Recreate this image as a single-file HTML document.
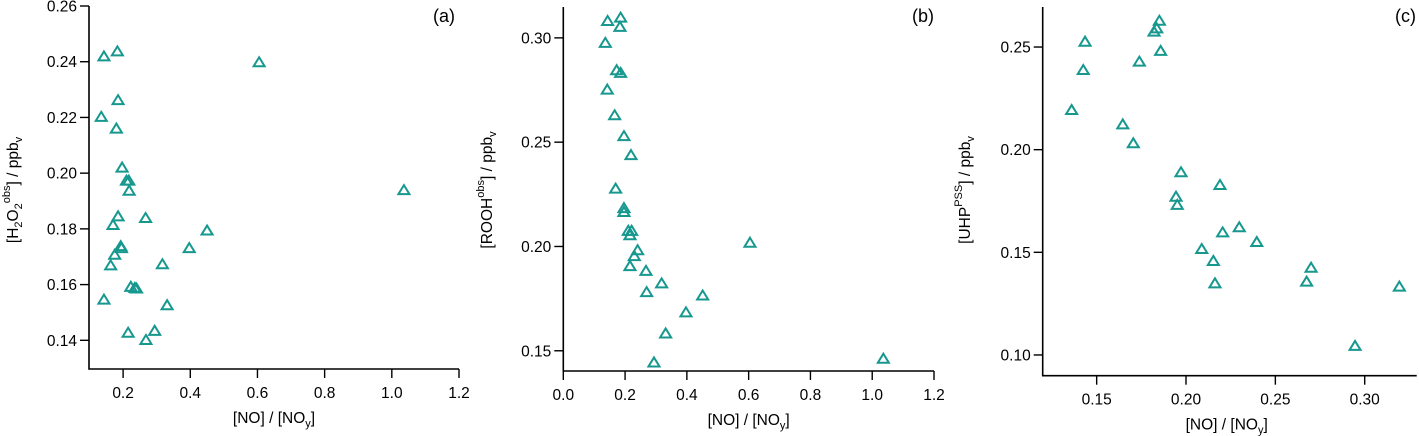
<!DOCTYPE html>
<html><head><meta charset="utf-8"><style>
html,body{margin:0;padding:0;background:#fff;}
svg{display:block;font-family:"Liberation Sans",Arial,sans-serif;}
</style></head><body>
<svg id="chart" width="1419" height="436" viewBox="0 0 1419 436" xmlns="http://www.w3.org/2000/svg"></svg>
<script>
const aX=[0.143,0.183,0.605,0.185,0.135,0.180,0.197,0.210,0.217,0.218,1.036,0.185,0.267,0.170,0.450,0.193,0.195,0.397,0.175,0.163,0.317,0.223,0.235,0.240,0.143,0.331,0.215,0.294,0.268];
const aY=[0.2419,0.2437,0.2398,0.2262,0.2202,0.2160,0.2020,0.1973,0.1973,0.1937,0.1939,0.1845,0.1839,0.1814,0.1794,0.1738,0.1731,0.1731,0.1707,0.1669,0.1673,0.1592,0.1588,0.1586,0.1546,0.1526,0.1427,0.1434,0.1401];
const bX=[0.1435,0.1856,0.1834,0.136,0.1727,0.1856,0.1424,0.1662,0.1964,0.2191,0.1694,0.1964,0.1964,0.2104,0.2212,0.2158,0.2406,0.2298,0.2158,0.2676,0.3183,0.2698,0.4511,0.3971,0.3313,0.2935,0.6043,1.036];
const bY=[0.3081,0.3097,0.3053,0.2976,0.2845,0.2832,0.2752,0.2629,0.2529,0.2438,0.2277,0.2184,0.2165,0.2075,0.2075,0.2054,0.1982,0.1954,0.1906,0.1883,0.1823,0.1781,0.1765,0.1684,0.1583,0.1444,0.2018,0.1462];
const cX=[0.1435,0.1425,0.136,0.1851,0.1836,0.1821,0.1858,0.1739,0.1646,0.1705,0.1972,0.2190,0.1944,0.1951,0.2298,0.2205,0.2396,0.2088,0.2153,0.2162,0.2675,0.2700,0.3194,0.2946];
const cY=[0.2526,0.2388,0.2193,0.2628,0.2591,0.2575,0.2481,0.2429,0.2123,0.2031,0.1890,0.1828,0.1771,0.1731,0.1622,0.1597,0.1550,0.1516,0.1458,0.1349,0.1357,0.1425,0.1333,0.1044];
const aXTicks=[0.2,0.4,0.6,0.8,1.0,1.2];
const aYTicks=[0.14,0.16,0.18,0.20,0.22,0.24,0.26];
const bXTicks=[0.0,0.2,0.4,0.6,0.8,1.0,1.2];
const bYTicks=[0.15,0.20,0.25,0.30];
const cXTicks=[0.15,0.20,0.25,0.30];
const cYTicks=[0.10,0.15,0.20,0.25];

const NS="http://www.w3.org/2000/svg";
const svg=document.getElementById('chart');
const COL="#17988f";
const FS=15.5;
function mk(tag,attrs,parent){const e=document.createElementNS(NS,tag);for(const k in attrs)e.setAttribute(k,attrs[k]);(parent||svg).appendChild(e);return e;}

function panel(p){
  const g=mk('g',{});
  
  
  const sx=v=>p.x0+(v-p.xmin)/(p.xmax-p.xmin)*(p.x1-p.x0);
  const sy=v=>p.y1-(v-p.ymin)/(p.ymax-p.ymin)*(p.y1-p.y0);
  const ax=mk('path',{d:`M${p.x0},${p.y0}V${p.y1}H${p.x1}`,fill:'none',stroke:'#000','stroke-width':1.6},g);
  
  
  p.xt.forEach((v,i)=>{
    const x=sx(v);
    const t=mk('line',{x1:x,x2:x,y1:p.y1,y2:p.y1+9,stroke:'#000','stroke-width':1.4},g);
    
    
    const l=mk('text',{x:x,y:p.y1+29,'text-anchor':'middle','font-size':FS,fill:'#000'},g);
    l.textContent=v.toFixed(p.xd);
    
    
  });
  p.yt.forEach((v,i)=>{
    const y=sy(v);
    const t=mk('line',{x1:p.x0-9,x2:p.x0,y1:y,y2:y,stroke:'#000','stroke-width':1.4},g);
    
    
    const l=mk('text',{x:p.x0-12,y:y+5.5,'text-anchor':'end','font-size':FS,fill:'#000'},g);
    l.textContent=v.toFixed(2);
    
    
  });
  p.xs.forEach((v,i)=>{
    const x=sx(v),y=sy(p.ys[i]);
    const tri=mk('path',{d:`M${x},${y-5}L${x+5.5},${y+4}L${x-5.5},${y+4}Z`,fill:'none',stroke:COL,'stroke-width':2,'stroke-linejoin':'miter'},g);
    
    
  });
  const xt=mk('text',{x:(p.x0+p.x1)/2+p.xto,y:p.y1+54,'text-anchor':'middle','font-size':FS,fill:'#000'},g);
  xt.innerHTML='[NO] / [NO<tspan font-size="11" dy="4">y</tspan><tspan dy="-4">]</tspan>';
  
  
  const yt=mk('text',{transform:`translate(${p.ytx},${p.yty}) rotate(-90)`,'text-anchor':'middle','font-size':FS,fill:'#000'},g);
  yt.innerHTML=p.ylab;
  
  
  const pl=mk('text',{x:p.lx,y:22,'text-anchor':'end','font-size':18,fill:'#000'},g);
  pl.textContent=p.label;
  
  
}

panel({name:'panel-a',x0:89,x1:459,y0:6,y1:369,xmin:0.0985,xmax:1.2,ymin:0.1297,ymax:0.26,
  xs:aX,ys:aY,xt:aXTicks,yt:aYTicks,xd:1,xto:0,lx:455,label:'(a)',ytx:18,yty:190,
  ylab:'[H<tspan font-size="11" dy="4">2</tspan><tspan dy="-4">O</tspan><tspan font-size="11" dy="4">2</tspan><tspan font-size="11" dy="-12">obs</tspan><tspan dy="8">] / ppb</tspan><tspan font-size="11" dy="4">v</tspan>'});
panel({name:'panel-b',x0:563.3,x1:934,y0:7,y1:371,xmin:0,xmax:1.2,ymin:0.1403,ymax:0.3148,
  xs:bX,ys:bY,xt:bXTicks,yt:bYTicks,xd:1,xto:0,lx:934,label:'(b)',ytx:492,yty:190,
  ylab:'[ROOH<tspan font-size="11" dy="-8">obs</tspan><tspan dy="8">] / ppb</tspan><tspan font-size="11" dy="4">v</tspan>'});
panel({name:'panel-c',x0:1042.7,x1:1416.7,y0:7,y1:375.7,xmin:0.1198,xmax:0.3291,ymin:0.0899,ymax:0.2695,
  xs:cX,ys:cY,xt:cXTicks,yt:cYTicks,xd:2,xto:-3,lx:1416,label:'(c)',ytx:970,yty:190,
  ylab:'[UHP<tspan font-size="11" dy="-8">PSS</tspan><tspan dy="8">] / ppb</tspan><tspan font-size="11" dy="4">v</tspan>'});
</script>
</body></html>
